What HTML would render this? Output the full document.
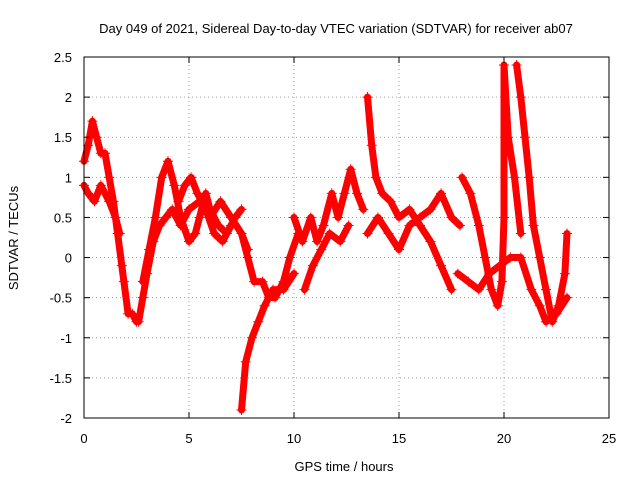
<!DOCTYPE html>
<html><head><meta charset="utf-8"><style>
body{margin:0;background:#fff}
svg text{font-family:"Liberation Sans",sans-serif;font-size:13px;fill:#000}
</style></head><body>
<svg id="chart" width="640" height="480">
<text x="336" y="33" text-anchor="middle">Day 049 of 2021, Sidereal Day-to-day VTEC variation (SDTVAR) for receiver ab07</text>
<text x="344" y="471" text-anchor="middle">GPS time / hours</text>
<text transform="translate(18,238) rotate(-90)" text-anchor="middle">SDTVAR / TECUs</text>
<g id="grid"></g><g id="marks"></g><g id="axes"></g>
</svg>
<script>
const xTicks=[0,5,10,15,20,25];
const yTicks=[-2,-1.5,-1,-0.5,0,0.5,1,1.5,2,2.5];
const traceA=[[0,1.2],[0.2,1.4],[0.4,1.7],[0.6,1.5],[0.8,1.3],[1.0,1.3],[1.2,1.0],[1.4,0.7],[1.6,0.3],[1.8,-0.1],[1.9,-0.3],[2.1,-0.7],[2.3,-0.7],[2.5,-0.8]];
const traceB=[[0,0.9],[0.2,0.8],[0.5,0.7],[0.8,0.9],[1.0,0.8],[1.2,0.7],[1.5,0.5],[1.7,0.3]];
const traceC=[[2.6,-0.8],[2.8,-0.5],[3.0,-0.2],[3.3,0.2],[3.6,0.4],[3.9,0.5],[4.2,0.6],[4.6,0.4],[5.0,0.6],[5.5,0.7],[6.0,0.5],[6.5,0.7],[7.0,0.5],[7.5,0.3],[7.8,0.1]];
const traceD=[[2.8,-0.3],[3.1,0.1],[3.4,0.5],[3.7,1.0],[4.0,1.2],[4.3,0.9],[4.6,0.5],[5.0,0.2],[5.3,0.3],[5.5,0.5],[5.8,0.8],[6.0,0.6],[6.4,0.4],[6.8,0.3],[7.2,0.5],[7.5,0.6]];
const traceE=[[4.5,0.7],[4.8,0.9],[5.1,1.0],[5.4,0.8],[5.8,0.6],[6.2,0.3],[6.6,0.2],[7.0,0.4]];
const traceF=[[7.5,-1.9],[7.7,-1.3],[8.0,-1.0],[8.3,-0.8],[8.6,-0.6],[9.0,-0.4],[9.5,-0.4],[10.0,-0.2]];
const traceG=[[7.5,0.3],[7.8,0.0],[8.1,-0.3],[8.5,-0.3],[8.8,-0.5],[9.1,-0.5],[9.5,-0.3],[9.8,0.0],[10.2,0.3]];
const traceH=[[10.0,0.5],[10.4,0.2],[10.8,0.5],[11.1,0.2],[11.4,0.4],[11.8,0.8],[12.1,0.5],[12.4,0.8],[12.7,1.1],[13.0,0.8],[13.3,0.6]];
const traceI=[[10.5,-0.4],[10.9,-0.1],[11.3,0.1],[11.7,0.3],[12.2,0.2],[12.6,0.4]];
const traceJ=[[13.5,2.0],[13.7,1.4],[13.9,1.0],[14.2,0.8],[14.6,0.7],[15.0,0.5],[15.5,0.6],[16.0,0.4],[16.5,0.2],[17.0,-0.1],[17.5,-0.4]];
const traceK=[[13.5,0.3],[14.0,0.5],[14.5,0.3],[15.0,0.1],[15.5,0.4],[16.0,0.5],[16.5,0.6],[17.0,0.8],[17.5,0.5],[17.9,0.4]];
const traceL=[[18.0,1.0],[18.4,0.8],[18.8,0.4],[19.1,0.0],[19.4,-0.4],[19.7,-0.6],[19.9,-0.3],[20.0,0.5],[20.0,2.4],[20.2,1.5],[20.5,1.0],[20.8,0.3]];
const traceM=[[20.6,2.4],[20.8,2.0],[21.0,1.5],[21.2,1.0],[21.4,0.4],[21.7,0.0],[22.0,-0.4],[22.3,-0.8],[22.6,-0.6],[22.9,-0.2],[23.0,0.3]];
const traceN=[[17.8,-0.2],[18.3,-0.3],[18.8,-0.4],[19.3,-0.2],[19.8,-0.1],[20.3,0.0],[20.8,0.0],[21.3,-0.4],[21.7,-0.6],[22.0,-0.8],[22.5,-0.7],[23.0,-0.5]];
const traces=[traceA,traceB,traceC,traceD,traceE,traceF,traceG,traceH,traceI,traceJ,traceK,traceL,traceM,traceN];
const X0=84,X1=609,Y0=418,Y1=57,xMin=0,xMax=25,yMin=-2,yMax=2.5;
const xs=v=>X0+(v-xMin)/(xMax-xMin)*(X1-X0);
const ys=v=>Y0-(v-yMin)/(yMax-yMin)*(Y0-Y1);
const NS='http://www.w3.org/2000/svg';
function mk(t,a,p){const e=document.createElementNS(NS,t);for(const k in a)e.setAttribute(k,a[k]);p.appendChild(e);return e;}
const grid=document.getElementById('grid'),axes=document.getElementById('axes'),marks=document.getElementById('marks');
xTicks.forEach(v=>{
 const g=mk('line',{x1:xs(v),x2:xs(v),y1:Y0,y2:Y1,stroke:'#a0a0a0','stroke-dasharray':'1,3'},grid);
 
 
 mk('line',{x1:xs(v),x2:xs(v),y1:Y0,y2:Y0-6,stroke:'#000'},axes);
 mk('line',{x1:xs(v),x2:xs(v),y1:Y1,y2:Y1+6,stroke:'#000'},axes);
 const t=mk('text',{x:xs(v),y:Y0+25,'text-anchor':'middle'},axes);t.textContent=v;
 
 
});
yTicks.forEach(v=>{
 const g=mk('line',{x1:X0,x2:X1,y1:ys(v),y2:ys(v),stroke:'#a0a0a0','stroke-dasharray':'1,3'},grid);
 
 
 mk('line',{x1:X0,x2:X0+6,y1:ys(v),y2:ys(v),stroke:'#000'},axes);
 mk('line',{x1:X1,x2:X1-6,y1:ys(v),y2:ys(v),stroke:'#000'},axes);
 const t=mk('text',{x:X0-12,y:ys(v)+5,'text-anchor':'end'},axes);t.textContent=v;
 
 
});
const fr=mk('rect',{x:X0,y:Y1,width:X1-X0,height:Y0-Y1,fill:'none',stroke:'#000'},axes);


traces.forEach((tr,i)=>{
 const g=mk('g',{},marks);
 
 
 mk('polyline',{points:tr.map(p=>xs(p[0])+','+ys(p[1])).join(' '),fill:'none',stroke:'#ff0000','stroke-width':7,'stroke-linejoin':'round','stroke-linecap':'round'},g);
 let d='';
 tr.forEach(p=>{const x=xs(p[0]),y=ys(p[1]);d+=`M${x-5},${y}H${x+5}M${x},${y-5}V${y+5}`;});
 mk('path',{d:d,stroke:'#ff0000','stroke-width':1},g);
});
</script>
</body></html>
